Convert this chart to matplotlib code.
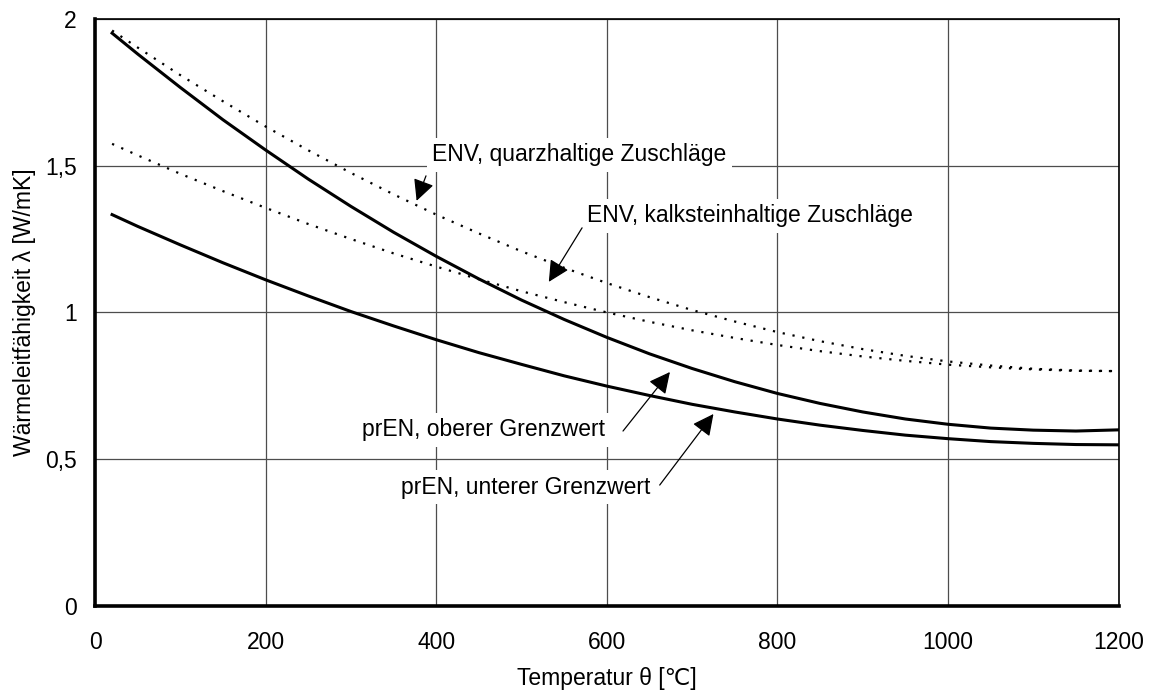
import matplotlib
matplotlib.use("Agg")
import matplotlib.pyplot as plt

plt.rcParams["font.family"] = ["Liberation Sans", "DejaVu Sans"]
plt.rcParams["font.size"] = 16.5

# temperature steps [°C]
temp = [20, 50, 100, 150, 200, 250, 300, 350, 400, 450, 500, 550, 600,
        650, 700, 750, 800, 850, 900, 950, 1000, 1050, 1100, 1150, 1200]

# prEN limits for thermal conductivity [W/mK]
pren_upper = [1.951, 1.880, 1.766, 1.656, 1.553, 1.454, 1.361, 1.273, 1.191,
              1.114, 1.042, 0.976, 0.915, 0.859, 0.809, 0.764, 0.724, 0.690,
              0.661, 0.637, 0.619, 0.606, 0.599, 0.596, 0.600]
pren_lower = [1.333, 1.293, 1.230, 1.169, 1.111, 1.056, 1.003, 0.954, 0.907,
              0.863, 0.823, 0.784, 0.749, 0.717, 0.687, 0.661, 0.637, 0.616,
              0.598, 0.582, 0.570, 0.560, 0.554, 0.550, 0.549]

# ENV curves by aggregate type
env_quartz = [1.960, 1.902, 1.808, 1.719, 1.633, 1.552, 1.475, 1.402, 1.333,
              1.269, 1.208, 1.152, 1.100, 1.052, 1.008, 0.969, 0.933, 0.902,
              0.875, 0.852, 0.833, 0.819, 0.808, 0.802, 0.800]
env_calc = [1.574, 1.535, 1.472, 1.413, 1.356, 1.301, 1.250, 1.201, 1.156,
            1.113, 1.072, 1.035, 1.000, 0.968, 0.939, 0.913, 0.889, 0.868,
            0.850, 0.835, 0.822, 0.813, 0.806, 0.801, 0.800]

x_ticks = [0, 200, 400, 600, 800, 1000, 1200]
y_ticks = [0, 0.5, 1, 1.5, 2]
y_tick_labels = ["0", "0,5", "1", "1,5", "2"]

fig = plt.figure(figsize=(11.52, 6.95), dpi=100)
ax = fig.add_axes([0.0825, 0.128, 0.8885, 0.845])

ax.plot(temp, pren_upper, color="black", lw=2.2, zorder=3)
ax.plot(temp, pren_lower, color="black", lw=2.2, zorder=3)
ax.plot(temp, env_quartz, color="black", lw=1.6, ls=(0, (1, 3.5)), zorder=3)
ax.plot(temp, env_calc, color="black", lw=1.6, ls=(0, (1, 3.5)), zorder=3)

ax.set_xlim(0, 1200)
ax.set_ylim(0, 2)
ax.set_xticks(x_ticks)
ax.set_yticks(y_ticks)
ax.set_yticklabels(y_tick_labels)
ax.tick_params(length=0)
ax.tick_params(axis="x", pad=18)
ax.tick_params(axis="y", pad=13)
ax.grid(True, color="0.3", lw=0.9, zorder=1)
ax.set_axisbelow(True)

for side in ("left", "bottom"):
    ax.spines[side].set_linewidth(2.6)
for side in ("top", "right"):
    ax.spines[side].set_linewidth(1.2)

ax.set_xlabel("Temperatur θ [℃]")
ax.set_ylabel("Wärmeleitfähigkeit λ [W/mK]")
ax.xaxis.set_label_coords(0.5, -0.104)
ax.yaxis.set_label_coords(-0.058, 0.5)

box = dict(fc="white", ec="none", pad=4)
labels = [
    ("ENV, quarzhaltige Zuschläge", (568, 1.537), (388, 1.465), (377, 1.380)),
    ("ENV, kalksteinhaltige Zuschläge", (768, 1.329), (571, 1.288), (532, 1.104)),
    ("prEN, oberer Grenzwert", (455, 0.600), (619, 0.596), (674, 0.797)),
    ("prEN, unterer Grenzwert", (505, 0.405), (662, 0.412), (725, 0.654)),
]
for text, pos, start, tip in labels:
    ax.text(pos[0], pos[1], text, ha="center", va="center", bbox=box, zorder=4)
    ax.annotate("", xy=tip, xytext=start,
                arrowprops=dict(arrowstyle="-|>,head_length=0.5,head_width=0.25",
                                color="black", lw=0.9,
                                mutation_scale=26, shrinkA=0, shrinkB=0),
                zorder=5)

fig.savefig("out.png", dpi=100)
